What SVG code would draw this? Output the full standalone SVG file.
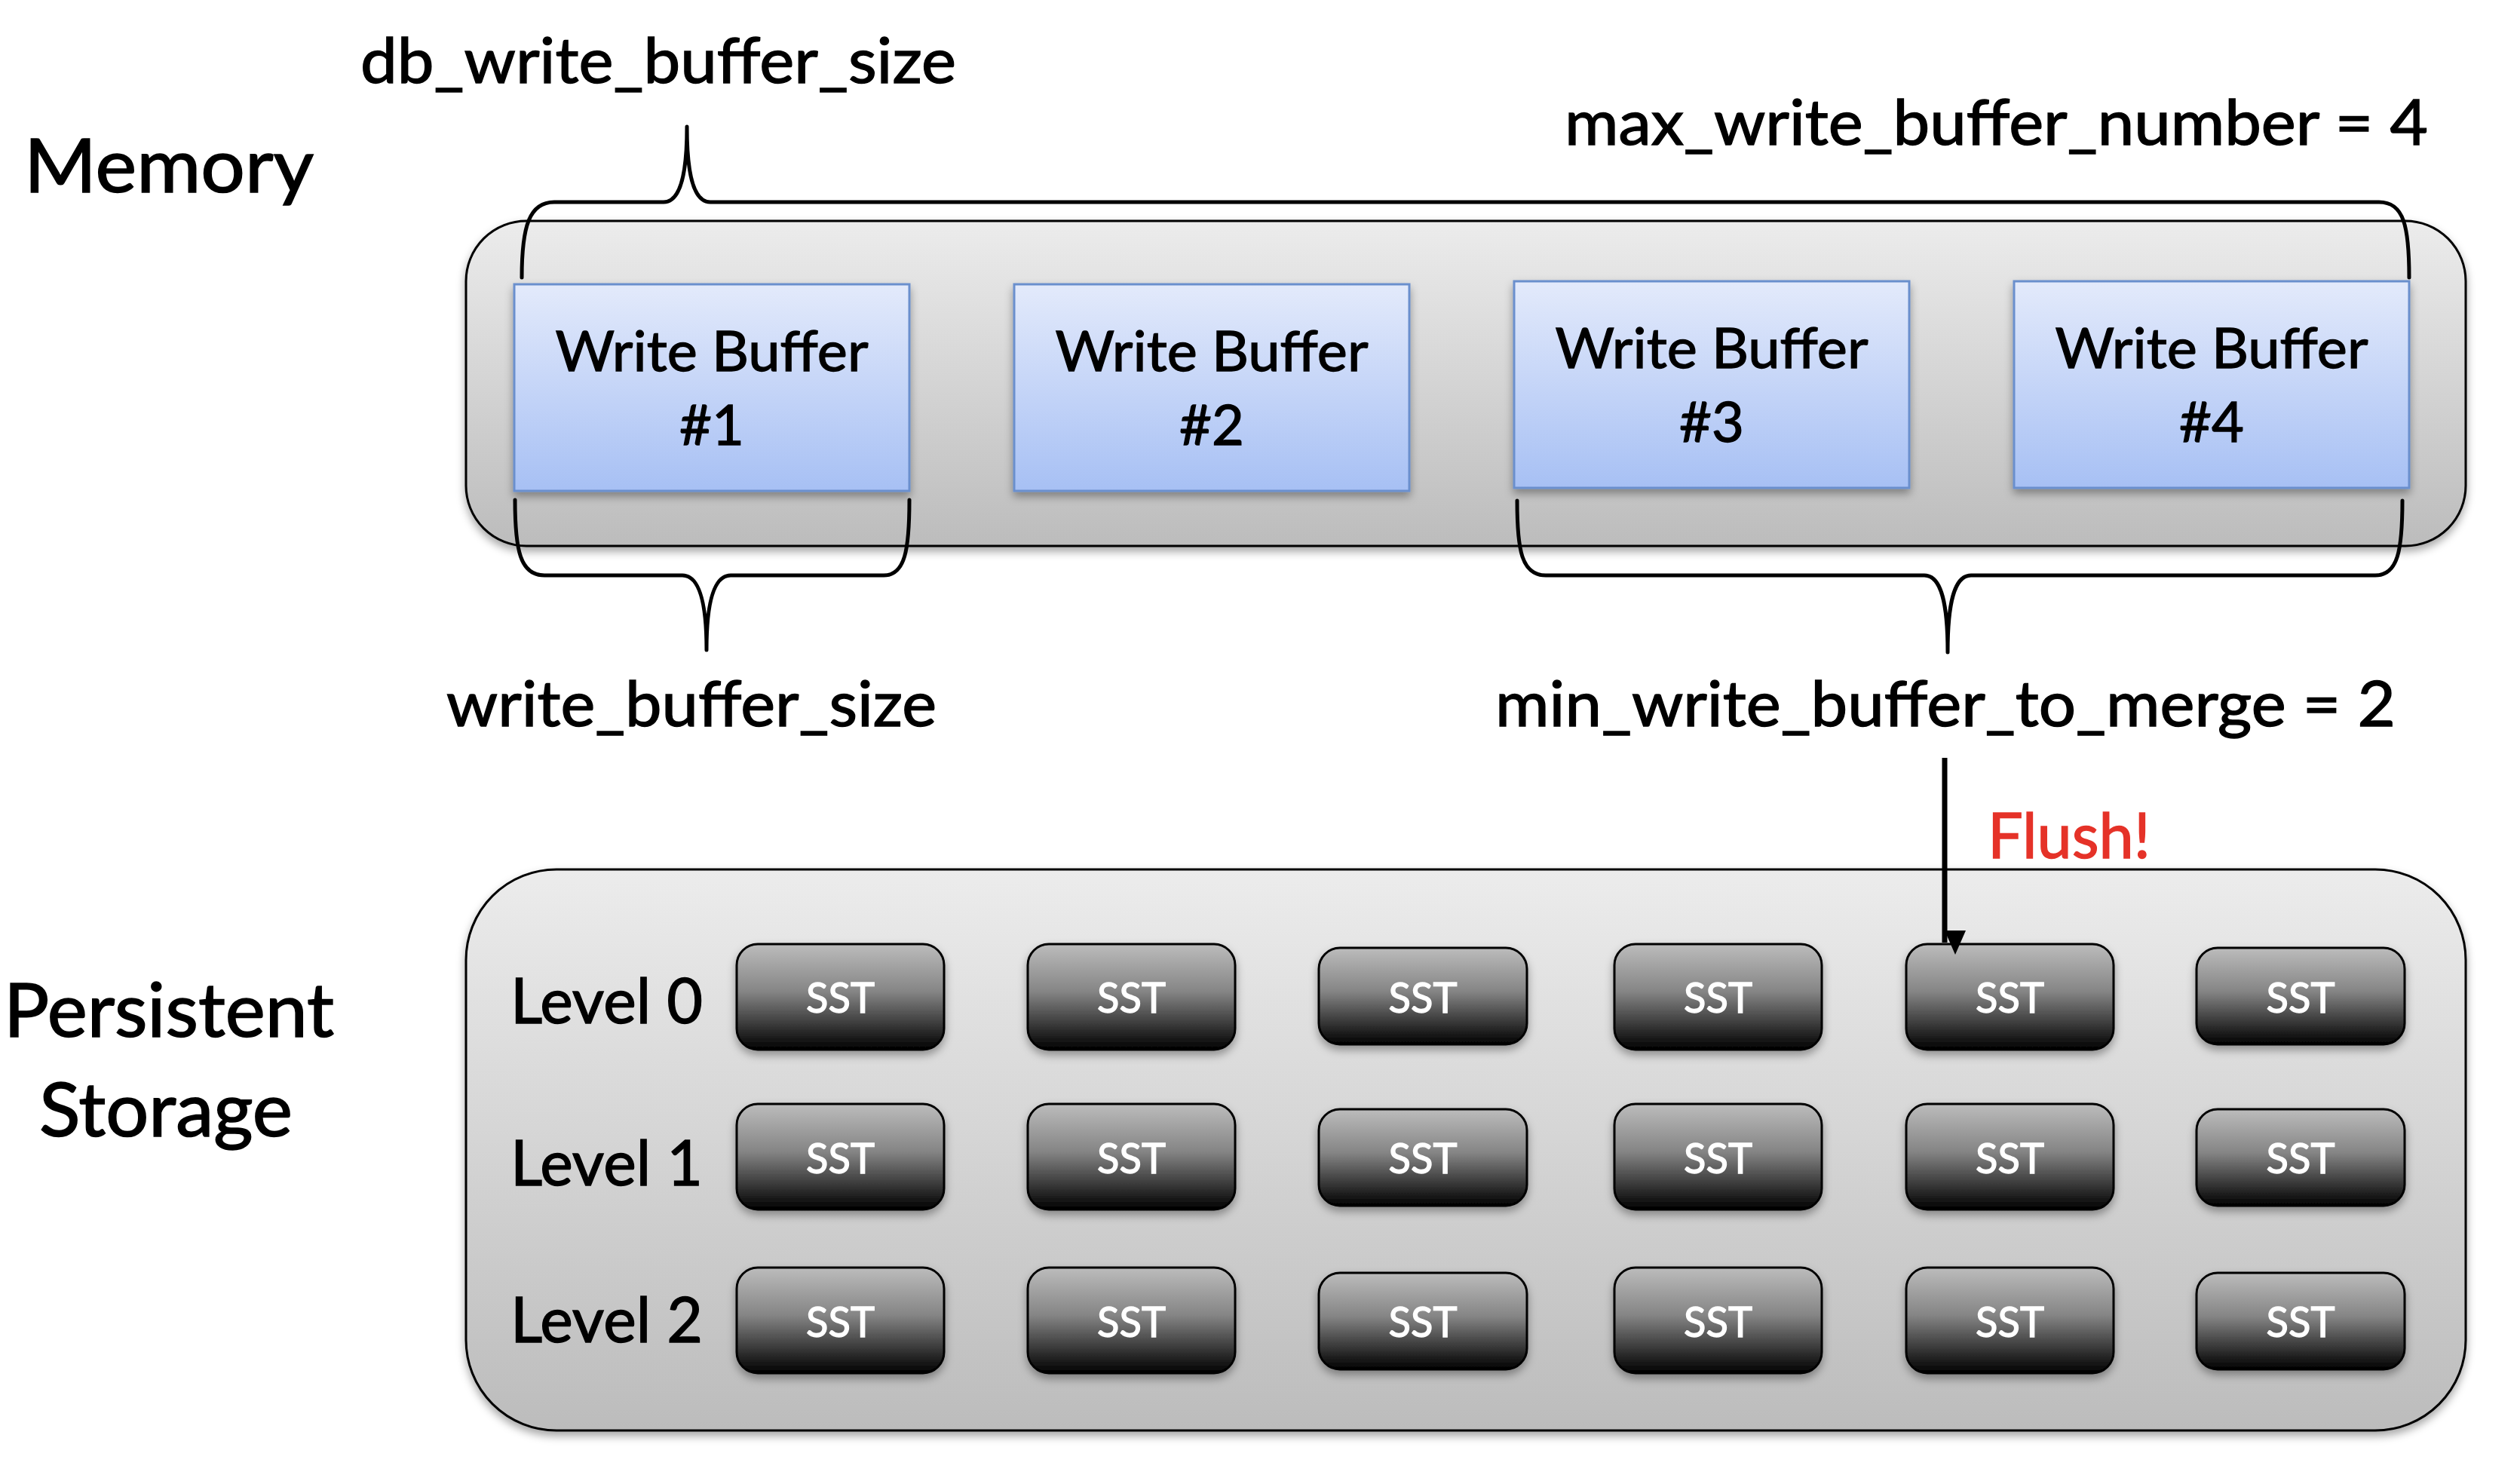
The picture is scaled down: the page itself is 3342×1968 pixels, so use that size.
<svg xmlns="http://www.w3.org/2000/svg" width="3342" height="1968" viewBox="0 0 3342 1968">
<defs>
  <linearGradient id="gCont" x1="0" y1="0" x2="0" y2="1">
    <stop offset="0" stop-color="#ececec"/>
    <stop offset="1" stop-color="#bcbcbc"/>
  </linearGradient>
  <linearGradient id="gWB" x1="0" y1="0" x2="0" y2="1">
    <stop offset="0" stop-color="#e3eafb"/>
    <stop offset="1" stop-color="#a7c0f4"/>
  </linearGradient>
  <linearGradient id="gSST" x1="0" y1="0" x2="0" y2="1">
    <stop offset="0" stop-color="#bcbcbc"/>
    <stop offset="0.45" stop-color="#858585"/>
    <stop offset="1" stop-color="#000000"/>
  </linearGradient>
  <filter id="shadow" x="-10%" y="-10%" width="120%" height="130%">
    <feDropShadow dx="0" dy="6" stdDeviation="6" flood-color="#000" flood-opacity="0.35"/>
  </filter>
  <marker id="arrow" markerUnits="userSpaceOnUse" markerWidth="32" markerHeight="34" refX="16" refY="30" orient="auto-start-reverse" viewBox="0 0 32 34">
    <polygon points="2,0 30,0 16,32" fill="#000" transform="rotate(-90 16 16)"/>
  </marker>
  <style>
    .cont { fill: url(#gCont); stroke: #000; stroke-width: 3; filter: url(#shadow); }
    .wb { fill: url(#gWB); stroke: #6a8fcd; stroke-width: 3; filter: url(#shadow); }
    .sst { fill: url(#gSST); stroke: #000; stroke-width: 3; filter: url(#shadow); }
    .big { font-family: Lato, "Liberation Sans", sans-serif; font-size: 98px; fill: #000; stroke: #000; stroke-width: 1.6; }
    .lbl { font-family: Lato, "Liberation Sans", sans-serif; font-size: 84px; fill: #000; stroke: #000; stroke-width: 1.4; }
    .wbt { font-family: Lato, "Liberation Sans", sans-serif; font-size: 74px; fill: #000; stroke: #000; stroke-width: 1.3; text-anchor: middle; }
    .sstt { font-family: Lato, "Liberation Sans", sans-serif; font-size: 57px; fill: #fff; stroke: #fff; stroke-width: 1.3; text-anchor: middle; }
    .flush { font-family: Lato, "Liberation Sans", sans-serif; font-size: 84px; fill: #e53228; stroke: #e53228; stroke-width: 1.4; }
    .brace { fill: none; stroke: #000; stroke-width: 5; stroke-linecap: round; stroke-linejoin: round; }
    .arr { fill: none; stroke: #000; stroke-width: 7; }
  </style>
</defs>
<rect width="3342" height="1968" fill="#fff"/>

<!-- Section labels -->
<g id="label-memory"><text class="big" x="32" y="255" textLength="384" lengthAdjust="spacingAndGlyphs">Memory</text></g>
<g id="label-persistent"><text class="big" x="5" y="1375" textLength="438" lengthAdjust="spacingAndGlyphs">Persistent</text>
<text class="big" x="52" y="1507" textLength="336" lengthAdjust="spacingAndGlyphs">Storage</text></g>

<!-- Memory container -->
<g id="memory">
  <rect class="cont" x="618" y="293" width="2652" height="431" rx="80" ry="80"/>
</g>

<!-- Write buffers -->
<g id="wb1">
  <rect class="wb" x="682" y="377" width="524" height="274"/>
  <text class="wbt" x="944" y="492" textLength="415" lengthAdjust="spacingAndGlyphs">Write Buffer</text>
  <text class="wbt" x="944" y="590">#1</text>
</g>
<g id="wb2">
  <rect class="wb" x="1345" y="377" width="524" height="274"/>
  <text class="wbt" x="1607" y="492" textLength="415" lengthAdjust="spacingAndGlyphs">Write Buffer</text>
  <text class="wbt" x="1607" y="590">#2</text>
</g>
<g id="wb3">
  <rect class="wb" x="2008" y="373" width="524" height="274"/>
  <text class="wbt" x="2270" y="488" textLength="415" lengthAdjust="spacingAndGlyphs">Write Buffer</text>
  <text class="wbt" x="2270" y="586">#3</text>
</g>
<g id="wb4">
  <rect class="wb" x="2671" y="373" width="524" height="274"/>
  <text class="wbt" x="2933" y="488" textLength="415" lengthAdjust="spacingAndGlyphs">Write Buffer</text>
  <text class="wbt" x="2933" y="586">#4</text>
</g>

<!-- Parameter labels -->
<g id="label-db"><text class="lbl" x="478" y="110" textLength="790" lengthAdjust="spacingAndGlyphs">db_write_buffer_size</text></g>
<g id="label-max"><text class="lbl" x="2075" y="192" textLength="1145" lengthAdjust="spacingAndGlyphs">max_write_buffer_number = 4</text></g>
<g id="label-wbs"><text class="lbl" x="592" y="963" textLength="650" lengthAdjust="spacingAndGlyphs">write_buffer_size</text></g>
<g id="label-min"><text class="lbl" x="1983" y="963" textLength="1194" lengthAdjust="spacingAndGlyphs">min_write_buffer_to_merge = 2</text></g>
<g id="label-flush"><text class="flush" x="2636" y="1138" textLength="216" lengthAdjust="spacingAndGlyphs">Flush!</text></g>

<!-- Storage container -->
<g id="storage">
  <rect class="cont" x="618" y="1153" width="2652" height="744" rx="120" ry="120"/>
</g>

<!-- Level labels -->
<g id="level0"><text class="lbl" x="677" y="1357" textLength="255" lengthAdjust="spacingAndGlyphs">Level 0</text></g>
<g id="level1"><text class="lbl" x="677" y="1572" textLength="255" lengthAdjust="spacingAndGlyphs">Level 1</text></g>
<g id="level2"><text class="lbl" x="677" y="1780" textLength="255" lengthAdjust="spacingAndGlyphs">Level 2</text></g>

<!-- SST row 0 -->
<g id="sst-0-1"><rect class="sst" x="977" y="1252" width="275" height="140" rx="28"/><text class="sstt" x="1114.5" y="1343" textLength="91" lengthAdjust="spacingAndGlyphs">SST</text></g>
<g id="sst-0-2"><rect class="sst" x="1363" y="1252" width="275" height="140" rx="28"/><text class="sstt" x="1500.5" y="1343" textLength="91" lengthAdjust="spacingAndGlyphs">SST</text></g>
<g id="sst-0-3"><rect class="sst" x="1749" y="1257" width="276" height="128" rx="28"/><text class="sstt" x="1887" y="1343" textLength="91" lengthAdjust="spacingAndGlyphs">SST</text></g>
<g id="sst-0-4"><rect class="sst" x="2141" y="1252" width="275" height="140" rx="28"/><text class="sstt" x="2278.5" y="1343" textLength="91" lengthAdjust="spacingAndGlyphs">SST</text></g>
<g id="sst-0-5"><rect class="sst" x="2528" y="1252" width="275" height="140" rx="28"/><text class="sstt" x="2665.5" y="1343" textLength="91" lengthAdjust="spacingAndGlyphs">SST</text></g>
<g id="sst-0-6"><rect class="sst" x="2913" y="1257" width="276" height="128" rx="28"/><text class="sstt" x="3051" y="1343" textLength="91" lengthAdjust="spacingAndGlyphs">SST</text></g>

<!-- SST row 1 -->
<g id="sst-1-1"><rect class="sst" x="977" y="1464" width="275" height="140" rx="28"/><text class="sstt" x="1114.5" y="1556" textLength="91" lengthAdjust="spacingAndGlyphs">SST</text></g>
<g id="sst-1-2"><rect class="sst" x="1363" y="1464" width="275" height="140" rx="28"/><text class="sstt" x="1500.5" y="1556" textLength="91" lengthAdjust="spacingAndGlyphs">SST</text></g>
<g id="sst-1-3"><rect class="sst" x="1749" y="1471" width="276" height="128" rx="28"/><text class="sstt" x="1887" y="1556" textLength="91" lengthAdjust="spacingAndGlyphs">SST</text></g>
<g id="sst-1-4"><rect class="sst" x="2141" y="1464" width="275" height="140" rx="28"/><text class="sstt" x="2278.5" y="1556" textLength="91" lengthAdjust="spacingAndGlyphs">SST</text></g>
<g id="sst-1-5"><rect class="sst" x="2528" y="1464" width="275" height="140" rx="28"/><text class="sstt" x="2665.5" y="1556" textLength="91" lengthAdjust="spacingAndGlyphs">SST</text></g>
<g id="sst-1-6"><rect class="sst" x="2913" y="1471" width="276" height="128" rx="28"/><text class="sstt" x="3051" y="1556" textLength="91" lengthAdjust="spacingAndGlyphs">SST</text></g>

<!-- SST row 2 -->
<g id="sst-2-1"><rect class="sst" x="977" y="1681" width="275" height="140" rx="28"/><text class="sstt" x="1114.5" y="1773" textLength="91" lengthAdjust="spacingAndGlyphs">SST</text></g>
<g id="sst-2-2"><rect class="sst" x="1363" y="1681" width="275" height="140" rx="28"/><text class="sstt" x="1500.5" y="1773" textLength="91" lengthAdjust="spacingAndGlyphs">SST</text></g>
<g id="sst-2-3"><rect class="sst" x="1749" y="1688" width="276" height="128" rx="28"/><text class="sstt" x="1887" y="1773" textLength="91" lengthAdjust="spacingAndGlyphs">SST</text></g>
<g id="sst-2-4"><rect class="sst" x="2141" y="1681" width="275" height="140" rx="28"/><text class="sstt" x="2278.5" y="1773" textLength="91" lengthAdjust="spacingAndGlyphs">SST</text></g>
<g id="sst-2-5"><rect class="sst" x="2528" y="1681" width="275" height="140" rx="28"/><text class="sstt" x="2665.5" y="1773" textLength="91" lengthAdjust="spacingAndGlyphs">SST</text></g>
<g id="sst-2-6"><rect class="sst" x="2913" y="1688" width="276" height="128" rx="28"/><text class="sstt" x="3051" y="1773" textLength="91" lengthAdjust="spacingAndGlyphs">SST</text></g>

<!-- Connectors: braces and flush arrow -->
<g id="connectors">
  <path class="brace" d="M 692 368 C 692 300 702 268 735 268 L 880 268 C 904 268 911 225 911 168 C 911 225 918 268 942 268 L 3155 268 C 3188 268 3195 300 3195 368"/>
  <path class="brace" d="M 683 663 C 683 730 690 763 722 763 L 905 763 C 929 763 937 805 937 862 C 937 805 945 763 969 763 L 1172 763 C 1200 763 1206 730 1206 663"/>
  <path class="brace" d="M 2012 664 C 2012 730 2018 763 2050 763 L 2552 763 C 2576 763 2583 805 2583 865 C 2583 805 2590 763 2614 763 L 3150 763 C 3180 763 3186 730 3186 664"/>
  <line class="arr" x1="2579" y1="1005" x2="2579" y2="1250" marker-end="url(#arrow)"/>
</g>
</svg>
